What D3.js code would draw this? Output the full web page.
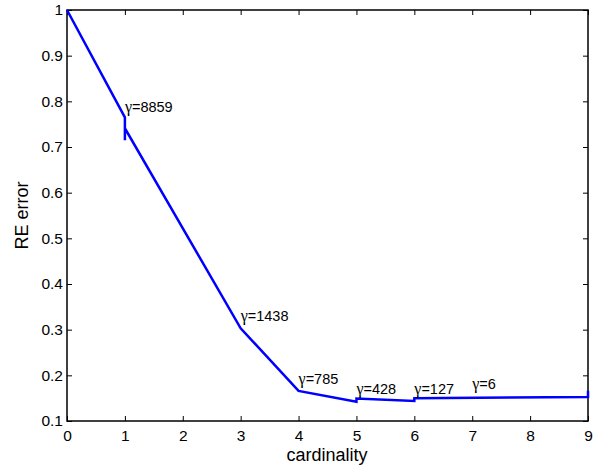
<!DOCTYPE html>
<html><head><meta charset="utf-8">
<script src="https://d3js.org/d3.v7.min.js"></script>
<style>body{margin:0;background:#fff}svg{display:block}text{font-family:"Liberation Sans",Arial,Helvetica,sans-serif}</style>
</head><body>
<script>
const pathX = [0, 1, 1, 1, 3, 4, 5, 5, 6, 6, 9, 9];
const pathY = [1, 0.765, 0.715, 0.741, 0.303, 0.166, 0.142, 0.149, 0.144, 0.150, 0.1526, 0.166];
const labelX = [1, 3, 4, 5, 6, 7];
const labelY = [0.777, 0.320, 0.181, 0.160, 0.160, 0.169];
const labelValue = ["8859", "1438", "785", "428", "127", "6"];
const xTicks = [0,1,2,3,4,5,6,7,8,9];
const yTicks = [0.1,0.2,0.3,0.4,0.5,0.6,0.7,0.8,0.9,1];

const W = 596, H = 468;
const m = {l:67, r:8, t:10, b:47};
const svg = d3.select("body").append("svg").attr("width", W).attr("height", H);
const x = d3.scaleLinear().domain([0,9]).range([m.l, W-m.r]);
const y = d3.scaleLinear().domain([0.1,1]).range([H-m.b, m.t]);

const g = svg.append("g");
const fmt = d => d===1 ? "1" : d3.format(".1f")(d);
const TS = 15.5;
g.append("g").attr("transform",`translate(0,${H-m.b})`)
  .call(d3.axisBottom(x).tickValues(xTicks).tickSizeInner(-5).tickSizeOuter(0).tickPadding(9))
  .call(a=>{a.select(".domain").remove();a.selectAll("text").attr("font-size",TS).attr("fill","#000");a.selectAll("line").attr("stroke","#000");});
g.append("g").attr("transform",`translate(0,${m.t})`)
  .call(d3.axisTop(x).tickValues(xTicks).tickSizeInner(-5).tickSizeOuter(0).tickFormat(""))
  .call(a=>{a.select(".domain").remove();a.selectAll("line").attr("stroke","#000");});
g.append("g").attr("transform",`translate(${m.l},0)`)
  .call(d3.axisLeft(y).tickValues(yTicks).tickSizeInner(-5).tickSizeOuter(0).tickPadding(4).tickFormat(fmt))
  .call(a=>{a.select(".domain").remove();a.selectAll("text").attr("font-size",TS).attr("fill","#000");a.selectAll("line").attr("stroke","#000");});
g.append("g").attr("transform",`translate(${W-m.r},0)`)
  .call(d3.axisRight(y).tickValues(yTicks).tickSizeInner(-5).tickSizeOuter(0).tickFormat(""))
  .call(a=>{a.select(".domain").remove();a.selectAll("line").attr("stroke","#000");});

svg.append("rect").attr("x",m.l).attr("y",m.t).attr("width",W-m.r-m.l).attr("height",H-m.b-m.t)
  .attr("fill","none").attr("stroke","#000").attr("stroke-width",1.5);

const pts = pathX.map((d,i)=>[d,pathY[i]]);
svg.append("path").datum(pts)
  .attr("d", d3.line().x(d=>x(d[0])).y(d=>y(d[1])))
  .attr("fill","none").attr("stroke","#0000ff").attr("stroke-width",2.5).attr("stroke-linejoin","miter");

const labs = svg.selectAll("text.lab").data(labelValue).enter().append("text").attr("class","lab")
  .attr("x",(d,i)=>x(labelX[i])).attr("y",(d,i)=>y(labelY[i]))
  .attr("font-size",14.5).attr("fill","#000");
labs.append("tspan").attr("font-family","'Liberation Serif','DejaVu Serif',serif").attr("font-size",16).text("γ");
labs.append("tspan").text(d=>"="+d);

svg.append("text").attr("x",327).attr("y",461).attr("text-anchor","middle")
  .attr("font-size",18).attr("fill","#000").text("cardinality");
svg.append("text").attr("transform",`translate(28,${(m.t+H-m.b)/2}) rotate(-90)`).attr("text-anchor","middle")
  .attr("font-size",18).attr("fill","#000").text("RE error");
</script>
</body></html>
